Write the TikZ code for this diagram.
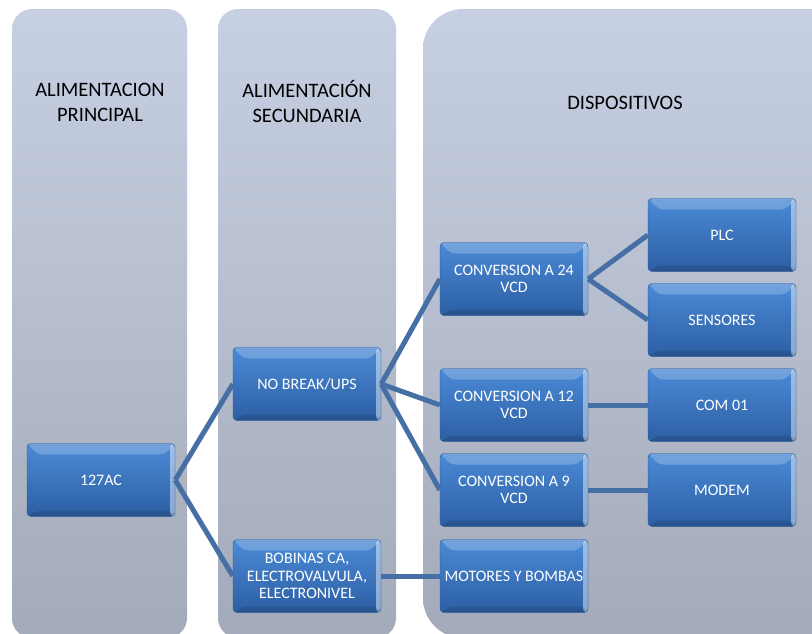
\documentclass[tikz,border=0pt]{standalone}
\usepackage{fontspec}
\setmainfont{Carlito}
\usepackage{tikz}
\usetikzlibrary{positioning}

\definecolor{laneTop}{HTML}{C7D0E3}
\definecolor{laneBot}{HTML}{A3AAB9}
\definecolor{boxTop}{HTML}{4B8AD6}
\definecolor{boxBot}{HTML}{2C5FA4}
\definecolor{boxEdge}{HTML}{2A5690}
\definecolor{linkBlue}{HTML}{4670A5}

\tikzset{
  lane/.style={top color=laneTop, bottom color=laneBot, draw=none},
  lanetitle/.style={font=\fontsize{20.5}{25}\selectfont, align=center, text=black},
  unit/.style={minimum width=148pt, minimum height=73pt, inner sep=1pt,
    rounded corners=4pt, top color=boxTop, bottom color=boxBot, draw=boxEdge,
    text=white, align=center, font=\fontsize{16}{17.5}\selectfont,
    path picture={
      % bevel: light top band, light right rim, dark bottom band
      \fill[white, opacity=0.22] (path picture bounding box.north west)
        -- (path picture bounding box.north east)
        -- ([xshift=-11pt, yshift=-11pt]path picture bounding box.north east)
        -- ([xshift=11pt, yshift=-11pt]path picture bounding box.north west) -- cycle;
      \fill[white, opacity=0.45] ([xshift=-5pt]path picture bounding box.north east)
        rectangle (path picture bounding box.south east);
      \fill[black, opacity=0.12] (path picture bounding box.south west)
        -- (path picture bounding box.south east)
        -- ([xshift=-5pt, yshift=6pt]path picture bounding box.south east)
        -- ([xshift=11pt, yshift=6pt]path picture bounding box.south west) -- cycle;
    }},
  link/.style={line width=5pt, draw=linkBlue}
}

\begin{document}
\begin{tikzpicture}[x=1pt, y=-1pt]
  \useasboundingbox (0,0) rectangle (812,633);
  \clip (0,0) rectangle (812,633);

  % swimlanes
  \path[lane, rounded corners=20pt] (12,9) rectangle (187,638);
  \path[lane, rounded corners=20pt] (218,9) rectangle (396,638);
  \path[lane, rounded corners=40pt] (423,9) rectangle (850,638);

  \node[lanetitle] (tPrin) at (100,102) {ALIMENTACION\\PRINCIPAL};
  \node[lanetitle] (tSec) at (307,102) {ALIMENTACIÓN\\SECUNDARIA};
  \node[lanetitle] (tDisp) at (625,103) {DISPOSITIVOS};

  % supply side
  \node[unit] (ac) at (101,480) {127AC};
  \node[unit] (ups) at (307,384) {NO BREAK/UPS};
  \node[unit] (bob) at (307,576) {BOBINAS CA,\\ELECTROVALVULA,\\ELECTRONIVEL};

  % converters and loads
  \node[unit] (c24) at (514,279) {CONVERSION A 24\\VCD};
  \node[unit] (c12) at (514,405) {CONVERSION A 12\\VCD};
  \node[unit] (c9) at (514,490) {CONVERSION A 9\\VCD};
  \node[unit] (mot) at (514,576) {MOTORES Y BOMBAS};
  \node[unit] (plc) at (722,235) {PLC};
  \node[unit] (sen) at (722,320) {SENSORES};
  \node[unit] (com) at (722,405) {COM 01};
  \node[unit] (mod) at (722,490) {MODEM};

  \draw[link] (ac.east) -- (ups.west);
  \draw[link] (ac.east) -- (bob.west);
  \draw[link] (ups.east) -- (c24.west);
  \draw[link] (ups.east) -- (c12.west);
  \draw[link] (ups.east) -- (c9.west);
  \draw[link] (bob.east) -- (mot.west);
  \draw[link] (c24.east) -- (plc.west);
  \draw[link] (c24.east) -- (sen.west);
  \draw[link] (c12.east) -- (com.west);
  \draw[link] (c9.east) -- (mod.west);
\end{tikzpicture}
\end{document}
